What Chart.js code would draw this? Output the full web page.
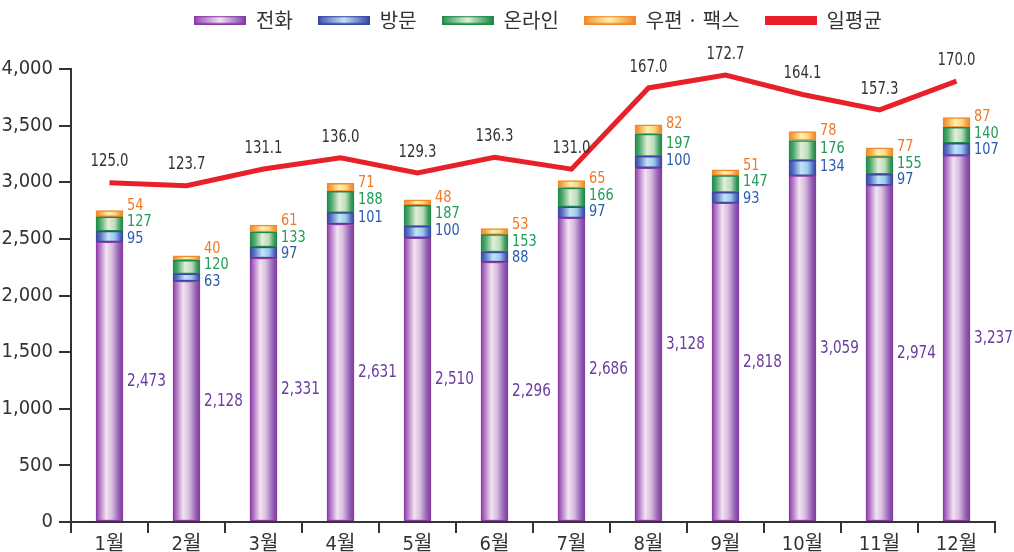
<!DOCTYPE html>
<html>
<head>
<meta charset="utf-8">
<script src="https://cdn.jsdelivr.net/npm/chart.js@4/dist/chart.umd.min.js"></script>
<style>
html,body{margin:0;padding:0;background:#fff;overflow:hidden;}
#wrap{width:1014px;height:552px;position:relative;}
</style>
</head>
<body>
<div id="wrap"><canvas id="c" width="1014" height="552"></canvas></div>
<script>
const months = ['1월','2월','3월','4월','5월','6월','7월','8월','9월','10월','11월','12월'];
const phone  = [2473,2128,2331,2631,2510,2296,2686,3128,2818,3059,2974,3237];
const visit  = [95,63,97,101,100,88,97,100,93,134,97,107];
const online = [127,120,133,188,187,153,166,197,147,176,155,140];
const fax    = [54,40,61,71,48,53,65,82,51,78,77,87];
const daily  = [125.0,123.7,131.1,136.0,129.3,136.3,131.0,167.0,172.7,164.1,157.3,170.0];
const seriesNames = ['전화','방문','온라인','우편 · 팩스','일평균'];
const yTicks = [0,500,1000,1500,2000,2500,3000,3500,4000];

const NUM_FONT = "'Liberation Sans Narrow','DejaVu Sans Condensed','Roboto',sans-serif";
const KR_FONT = "'Liberation Sans Narrow','DejaVu Sans Condensed','Noto Sans CJK KR',sans-serif";
const BAR_W = 27;

const palettes = {
  phone:  {stops:[[0,'#8e3fa8'],[0.1,'#a766bf'],[0.38,'#f3e4f1'],[0.6,'#d6bade'],[0.85,'#9260b3'],[1,'#7c3598']], border:'#8a3aa5', text:'#6a3d9e'},
  visit:  {stops:[[0,'#3646a3'],[0.15,'#5670c0'],[0.45,'#c2e4f8'],[0.7,'#9cc8ee'],[0.9,'#4f66b8'],[1,'#33449e']], border:'#3a48a0', text:'#2c5aae'},
  online: {stops:[[0,'#1c8a4c'],[0.15,'#4aa568'],[0.45,'#e3efd9'],[0.7,'#bcdcbc'],[0.9,'#3a9a5c'],[1,'#1a8548']], border:'#1e8a4c', text:'#1f9d57'},
  fax:    {stops:[[0,'#ef8428'],[0.15,'#f6a446'],[0.45,'#fdf2ae'],[0.7,'#fcd988'],[0.9,'#f49a3a'],[1,'#ec7f22']], border:'#f08a2e', text:'#f07a28'}
};

function gradFill(p){
  return (ctx) => {
    const ch = ctx.chart;
    const xs = ch.scales && ch.scales.x;
    if (!xs || ctx.dataIndex === undefined || !ch.chartArea) return p.stops[2][1];
    const cx = xs.getPixelForValue(ctx.dataIndex);
    const g = ch.ctx.createLinearGradient(cx - BAR_W/2, 0, cx + BAR_W/2, 0);
    p.stops.forEach(s => g.addColorStop(s[0], s[1]));
    return g;
  };
}

function legendImage(p, solid){
  const c = document.createElement('canvas');
  c.width = 52; c.height = 9;
  const x = c.getContext('2d');
  if (solid) { x.fillStyle = solid; x.fillRect(0,0,52,9); return c; }
  const g = x.createLinearGradient(0,0,52,0);
  [[0,p.stops[0][1]],[0.1,p.stops[1][1]],[0.5,p.stops[2][1]],[0.9,p.stops[4][1]],[1,p.stops[5][1]]].forEach(s=>g.addColorStop(s[0],s[1]));
  x.fillStyle = g; x.fillRect(0,0,52,9);
  x.strokeStyle = p.border; x.lineWidth = 1.5; x.strokeRect(0.75,0.75,50.5,7.5);
  return c;
}
const legendImgs = [legendImage(palettes.phone), legendImage(palettes.visit), legendImage(palettes.online), legendImage(palettes.fax), legendImage(null,'#e8202a')];

function barDs(label, data, p){
  return {type:'bar', label, data, backgroundColor: gradFill(p), borderColor: p.border, borderWidth: 1.5, borderSkipped: false, barThickness: BAR_W, stack:'s', yAxisID:'y', order: 1};
}

const fmt = v => v.toLocaleString('en-US');

function txt(c, s, x, y, align, sx){
  c.save();
  c.translate(x, y);
  c.scale(sx, 1);
  c.textAlign = align;
  c.fillText(s, 0, 0);
  c.restore();
}

const labelPlugin = {
  id: 'valueLabels',
  afterDatasetsDraw(chart){
    const c = chart.ctx;
    const m = [0,1,2,3].map(i => chart.getDatasetMeta(i).data);
    const lm = chart.getDatasetMeta(4).data;
    c.save();
    c.textBaseline = 'middle';
    for (let i = 0; i < months.length; i++) {
      const e0 = m[0][i], e1 = m[1][i], e2 = m[2][i], e3 = m[3][i];
      const rx = e0.x + BAR_W/2 + 4;
      c.font = '18px ' + NUM_FONT;
      c.fillStyle = palettes.phone.text;
      txt(c, fmt(phone[i]), rx, (e0.y + e0.base)/2, 'left', 0.84);
      c.font = '16.5px ' + NUM_FONT;
      const yOn = (e2.y + e2.base)/2 - 2;
      const yVi = Math.max((e1.y + e1.base)/2 - 1, yOn + 16.5);
      const yFx = Math.min(e3.y - 1, yOn - 16.5);
      c.fillStyle = palettes.visit.text;  txt(c, fmt(visit[i]), rx, yVi, 'left', 0.87);
      c.fillStyle = palettes.online.text; txt(c, fmt(online[i]), rx, yOn, 'left', 0.87);
      c.fillStyle = palettes.fax.text;    txt(c, fmt(fax[i]), rx, yFx, 'left', 0.87);
      const p = lm[i];
      c.font = '18px ' + NUM_FONT;
      c.fillStyle = '#333';
      txt(c, daily[i].toFixed(1), p.x, p.y - 21, 'center', 0.82);
    }
    c.restore();
  }
};

const legendShift = {
  id: 'legendShift',
  afterLayout(chart){
    const l = chart.legend;
    if (!l || !l.lineWidths) return;
    const pad = l.options.labels.padding;
    const start = (l.left + pad + l.right - l.lineWidths[0]) / 2;
    const dx = 194 - start;
    l.left += dx; l.right += dx;
    const dy = (10 - pad) - l.top;
    l.top += dy; l.bottom += dy;
  }
};

new Chart(document.getElementById('c'), {
  data: {
    labels: months,
    datasets: [
      barDs(seriesNames[0], phone, palettes.phone),
      barDs(seriesNames[1], visit, palettes.visit),
      barDs(seriesNames[2], online, palettes.online),
      barDs(seriesNames[3], fax, palettes.fax),
      {type:'line', label: seriesNames[4], data: daily, borderColor:'#e8202a', backgroundColor:'#e8202a', borderWidth:5, pointRadius:0, tension:0, yAxisID:'y2', order:-1}
    ]
  },
  options: {
    responsive: false,
    animation: false,
    devicePixelRatio: 1,
    layout: {padding: {top: 14, right: 19, left: 0, bottom: 0}},
    plugins: {
      tooltip: {enabled:false},
      legend: {
        display: true, position: 'top', align: 'center',
        labels: {
          usePointStyle: true, pointStyleWidth: 52, padding: 25, color: '#333',
          font: {family: "'Noto Sans CJK KR',sans-serif", size: 20},
          generateLabels: (chart) => seriesNames.map((n, i) => ({text: n, pointStyle: legendImgs[i], datasetIndex: i, fillStyle:'#000', strokeStyle:'#000', lineWidth:0, fontColor:'#333', hidden:false}))
        }
      }
    },
    scales: {
      x: {
        stacked: true,
        offset: true,
        grid: {display: true, drawOnChartArea: false, drawTicks: true, tickLength: 11, color: '#333', lineWidth: 2, offset: true},
        border: {display: true, color: '#333', width: 2},
        ticks: {color: '#333', font: {family: KR_FONT, size: 20}, padding: 0, maxRotation: 0, autoSkip: false},
        afterFit: (s) => { s.height = 30; }
      },
      y: {
        stacked: true,
        min: 0, max: 4000,
        afterBuildTicks: (s) => { s.ticks = yTicks.map(v => ({value: v})); },
        grid: {display: true, drawOnChartArea: false, drawTicks: true, tickLength: 12, color: '#333', lineWidth: 2},
        border: {display: true, color: '#333', width: 2},
        ticks: {color: '#333', font: {family: NUM_FONT, size: 20}, padding: 6, callback: v => fmt(v)},
        afterFit: (s) => { s.width = 71; }
      },
      y2: {
        display: false, min: -25.4, max: 175.4, stacked: false
      }
    }
  },
  plugins: [labelPlugin, legendShift]
});
</script>
</body>
</html>
